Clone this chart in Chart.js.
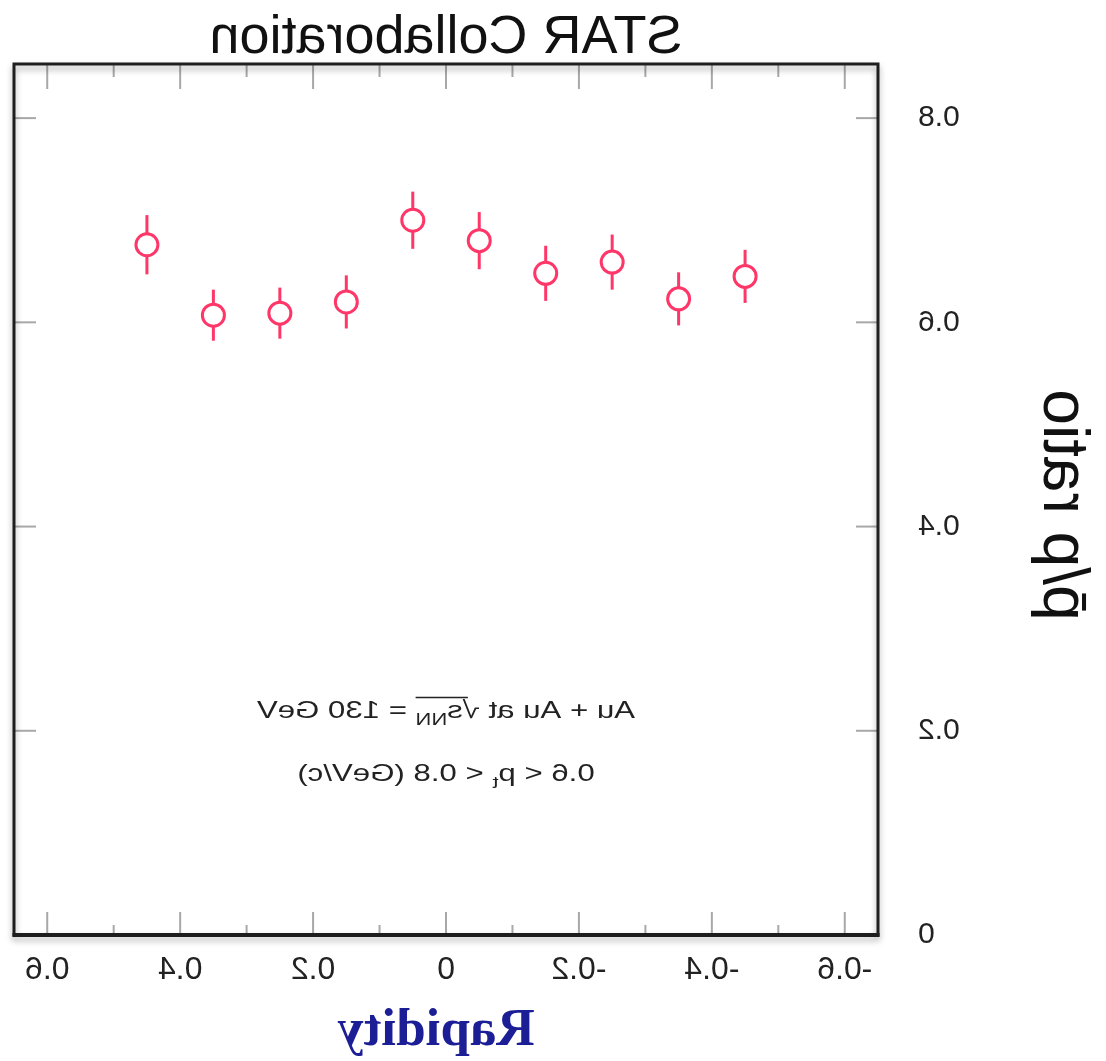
<!DOCTYPE html>
<html><head><meta charset="utf-8">
<script src="https://cdn.jsdelivr.net/npm/chart.js@4/dist/chart.umd.min.js"></script>
<style>
html,body{margin:0;padding:0;background:#fff;overflow:hidden}
#wrap{width:1106px;height:1061px;transform:scaleX(-1);}
canvas{display:block}
</style></head><body>
<div id="wrap"><canvas id="c" width="1106" height="1061"></canvas></div>
<script>
// Data (original, un-mirrored orientation)
const rapidity = [-0.45, -0.35, -0.25, -0.15, -0.05, 0.05, 0.15, 0.25, 0.35, 0.45];
const ratio    = [0.645, 0.623, 0.659, 0.648, 0.680, 0.700, 0.620, 0.609, 0.607, 0.676];
const ratioErr = [0.026, 0.026, 0.027, 0.027, 0.028, 0.028, 0.026, 0.025, 0.025, 0.029];
const xTickValues = [-0.6, -0.4, -0.2, 0, 0.2, 0.4, 0.6];
const xTickLabels = ['-0.6', '-0.4', '-0.2', '0', '0.2', '0.4', '0.6'];
const xMinorValues = [-0.5, -0.3, -0.1, 0.1, 0.3, 0.5];
const yTickValues = [0, 0.2, 0.4, 0.6, 0.8];
const yTickLabels = ['0', '0.2', '0.4', '0.6', '0.8'];
const titleText = 'STAR Collaboration';
const xTitle = 'Rapidity';
const yTitle = 'p\u0304/p ratio';

const markerColor = 'rgb(255,55,105)';
const SANS = '"Liberation Sans", Arial, sans-serif';

function drawSegments(ctx, segs, cx, baseline, size, hs) {
  // measure
  let total = 0;
  const widths = segs.map(s => {
    ctx.font = (s.sub ? size * 0.7 : size) + 'px ' + SANS;
    const w = ctx.measureText(s.t).width;
    total += w;
    return w;
  });
  ctx.save();
  ctx.translate(cx, baseline);
  ctx.scale(hs, 1);
  let xx = -total / 2;
  segs.forEach((s, i) => {
    ctx.font = (s.sub ? size * 0.7 : size) + 'px ' + SANS;
    const yy = s.sub ? size * 0.3 : 0;
    ctx.fillText(s.t, xx, yy);
    if (s.over) {
      s.overStart = xx;
    }
    xx += widths[i];
  });
  ctx.restore();
  return {total, widths};
}

const deco = {
  id: 'deco',
  beforeDatasetsDraw(chart) {
    const {ctx, scales: {x, y}} = chart;
    ctx.save();
    ctx.strokeStyle = markerColor;
    ctx.lineWidth = 3;
    rapidity.forEach((r, i) => {
      const px = x.getPixelForValue(r);
      ctx.beginPath();
      ctx.moveTo(px, y.getPixelForValue(ratio[i] - ratioErr[i]));
      ctx.lineTo(px, y.getPixelForValue(ratio[i] + ratioErr[i]));
      ctx.stroke();
    });
    ctx.restore();
  },
  afterDraw(chart) {
    const {ctx, chartArea: a, scales: {x, y}} = chart;
    ctx.save();
    // inner ticks
    ctx.strokeStyle = '#a8a8a8';
    ctx.lineWidth = 2;
    const line = (x1, y1, x2, y2) => { ctx.beginPath(); ctx.moveTo(x1, y1); ctx.lineTo(x2, y2); ctx.stroke(); };
    xTickValues.forEach(v => { const p = x.getPixelForValue(v); line(p, a.top, p, a.top + 25); line(p, a.bottom, p, a.bottom - 23); });
    xMinorValues.forEach(v => { const p = x.getPixelForValue(v); line(p, a.top, p, a.top + 13); line(p, a.bottom, p, a.bottom - 10); });
    yTickValues.forEach(v => { if (v === 0) return; const p = y.getPixelForValue(v); line(a.left, p, a.left + 22, p); line(a.right, p, a.right - 22, p); });
    // frame with shadow
    ctx.shadowColor = 'rgba(0,0,0,0.35)';
    ctx.shadowBlur = 6;
    ctx.shadowOffsetY = 4;
    ctx.strokeStyle = '#1e1e1e';
    ctx.lineWidth = 3;
    ctx.strokeRect(a.left, a.top, a.right - a.left, a.bottom - a.top);
    ctx.shadowColor = 'transparent';
    ctx.lineWidth = 4;
    line(a.left - 1.5, a.bottom, a.right + 1.5, a.bottom);

    // title
    ctx.fillStyle = '#111';
    ctx.textAlign = 'center';
    ctx.textBaseline = 'alphabetic';
    ctx.font = '54px ' + SANS;
    ctx.fillText(titleText, (a.left + a.right) / 2, 53);

    // x title
    ctx.fillStyle = 'rgb(28,30,150)';
    ctx.font = 'bold 53px "Liberation Serif", "Times New Roman", serif';
    ctx.fillText(xTitle, 670, 1045);

    // y title
    ctx.save();
    ctx.fillStyle = '#111';
    ctx.translate(44, 505);
    ctx.rotate(-Math.PI / 2);
    ctx.textBaseline = 'middle';
    ctx.font = '64px ' + SANS;
    ctx.fillText(yTitle, 0, 0);
    ctx.restore();

    // annotations
    ctx.fillStyle = '#222';
    ctx.textAlign = 'left';
    const cx = (a.left + a.right) / 2;
    const size = 24, hs = 1.3;
    const segs1 = [{t: 'Au + Au at '}, {t: '\u221A'}, {t: 's'}, {t: 'NN', sub: true}, {t: ' = 130 GeV'}];
    const m = drawSegments(ctx, segs1, cx, 718, size, hs);
    // overline over sqrt argument
    const start = -m.total / 2 + m.widths[0];
    const end = start + m.widths[1] + m.widths[2] + m.widths[3];
    ctx.strokeStyle = '#222';
    ctx.lineWidth = 1.5;
    ctx.beginPath();
    ctx.moveTo(cx + (start + m.widths[1] * 0.7) * hs, 718 - size * 0.85);
    ctx.lineTo(cx + end * hs, 718 - size * 0.85);
    ctx.stroke();
    const segs2 = [{t: '0.6 < p'}, {t: 't', sub: true}, {t: ' < 0.8 (GeV/c)'}];
    drawSegments(ctx, segs2, cx, 781, size, hs);
    ctx.restore();
  }
};

new Chart(document.getElementById('c'), {
  type: 'scatter',
  data: {
    datasets: [{
      data: rapidity.map((r, i) => ({x: r, y: ratio[i]})),
      pointStyle: 'circle',
      pointRadius: 11,
      pointHoverRadius: 11,
      pointBorderWidth: 3,
      pointBorderColor: markerColor,
      pointBackgroundColor: '#fff',
      showLine: false
    }]
  },
  options: {
    responsive: false,
    animation: false,
    events: [],
    layout: {padding: {top: 64, right: 10, left: 0, bottom: 0}},
    plugins: {legend: {display: false}, tooltip: {enabled: false}, title: {display: false}},
    scales: {
      x: {
        type: 'linear', min: -0.65, max: 0.65,
        grid: {display: false, drawTicks: false},
        border: {display: false},
        afterBuildTicks: s => { s.ticks = xTickValues.map(v => ({value: v})); },
        afterFit: s => { s.height = 126; },
        ticks: {
          padding: 16, color: '#222', maxRotation: 0, autoSkip: false,
          font: {family: SANS, size: 32},
          callback: (v) => xTickLabels[xTickValues.indexOf(v)]
        }
      },
      y: {
        type: 'linear', min: 0, max: 0.853,
        grid: {display: false, drawTicks: false},
        border: {display: false},
        afterBuildTicks: s => { s.ticks = yTickValues.map(v => ({value: v})); },
        afterFit: s => { s.width = 228; },
        ticks: {
          padding: 40, color: '#222',
          font: {family: SANS, size: 30},
          callback: (v) => yTickLabels[yTickValues.indexOf(v)]
        }
      }
    }
  },
  plugins: [deco]
});
</script>
</body></html>
